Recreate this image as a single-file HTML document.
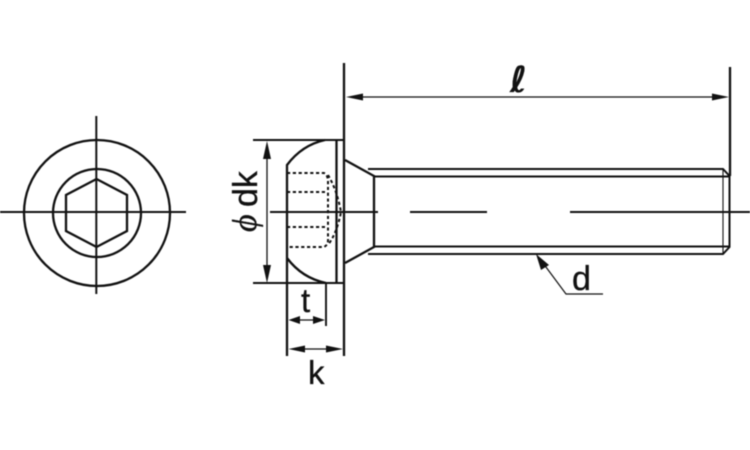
<!DOCTYPE html>
<html><head><meta charset="utf-8"><style>
html,body{margin:0;padding:0;background:#fff;width:750px;height:450px;overflow:hidden}
svg{display:block;filter:blur(.4px)}
text{font-family:"Liberation Sans",sans-serif;fill:#111;stroke:#111;stroke-width:.3}
</style></head><body>
<svg width="750" height="450" viewBox="0 0 750 450" xmlns="http://www.w3.org/2000/svg">
<rect width="750" height="450" fill="#fff"/>
<g fill="none" stroke="#111" stroke-width="2.3">
<!-- left view -->
<circle cx="97" cy="213" r="73"/>
<circle cx="97" cy="213" r="44"/>
<path d="M96.5 179L127 195V231L96.5 247L66 231V195Z"/>
<path d="M96.3 116V294M0 212H186" stroke-width="2"/>
<!-- head -->
<path d="M253 140H344M253 283H344" stroke-width="2"/>
<path d="M344 63V356M336.500 140V283" />
<path d="M287 356V165Q302 145 325 140M287 258Q302 278 326 283" />
<path d="M326 283V326" stroke-width="1.9"/>
<!-- cone and shank -->
<path d="M345 160L374 176V247L345 263"/>
<path d="M368 169H723L729.500 176V247L723 254H368" stroke-width="2"/>
<path d="M374 176.500H729M374 246.500H729" stroke-width="2"/>
<path d="M723 169V254" stroke-width="1.1"/>
<path d="M730 67V176"/>
<!-- center lines -->
<path d="M270 212H378M410 212H487M570 212H750" stroke-width="1.9"/>
<!-- hidden lines -->
<g stroke-dasharray="3.200 2.600" stroke-width="2">
<path d="M287 173H324Q328 175 328 182V240Q328 245 324 247H287"/>
<path d="M287 192H327M287 227H327"/>
<path d="M328 175Q337 190 341 212Q337 233 328 245"/>
</g>
<!-- dimension lines -->
<path d="M267 150V274M352 97H722M296 320H318M296 349H336" stroke-width="1.3"/>
<path d="M540 259L566 294H603" stroke-width="1.200"/>
</g>
<g fill="#111">
<path d="M267 141L263 159H271Z"/>
<path d="M267 283L263 265H271Z"/>
<path d="M346 97L363 93.500V100.500Z"/>
<path d="M729 97L712 93.500V100.500Z"/>
<path d="M288.500 320L300 316V324Z"/>
<path d="M325 320L313 316V324Z"/>
<path d="M288.500 349L305 345.500V352.500Z"/>
<path d="M343 349L326 345.500V352.500Z"/>
<path d="M536 254L549 265L541 270Z"/>
</g>
<text x="572" y="290" font-size="34">d</text>
<text x="301" y="312" font-size="33">t</text>
<text x="308" y="384" font-size="33">k</text>
<text x="0" y="0" font-size="34" transform="translate(257 207) rotate(-90)">dk</text>
<text x="0" y="0" font-size="34" font-style="italic" style="font-family:'Liberation Serif',serif" transform="translate(256 232) rotate(-90)">ϕ</text>
<text x="510" y="92" font-size="36" font-weight="bold" font-style="italic" style="font-family:'DejaVu Sans',sans-serif">ℓ</text>
</svg>
</body></html>
